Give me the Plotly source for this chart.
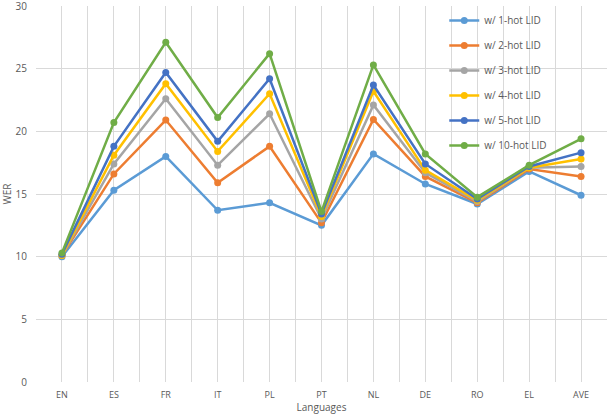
import plotly.graph_objects as go

languages = ["EN", "ES", "FR", "IT", "PL", "PT", "NL", "DE", "RO", "EL", "AVE"]

hot1 = [10.0, 15.3, 18.0, 13.7, 14.3, 12.5, 18.2, 15.8, 14.2, 16.8, 14.9]
hot2 = [10.1, 16.6, 20.9, 15.9, 18.8, 12.7, 20.95, 16.4, 14.3, 17.0, 16.4]
hot3 = [10.1, 17.4, 22.6, 17.3, 21.4, 13.0, 22.1, 16.7, 14.4, 17.1, 17.2]
hot4 = [10.1, 18.1, 23.8, 18.4, 23.0, 13.2, 23.2, 16.9, 14.5, 17.1, 17.8]
hot5 = [10.2, 18.8, 24.7, 19.2, 24.2, 13.4, 23.7, 17.4, 14.6, 17.2, 18.3]
hot10 = [10.3, 20.7, 27.1, 21.1, 26.2, 13.6, 25.3, 18.2, 14.75, 17.3, 19.4]

names = ["w/ 1-hot LID", "w/ 2-hot LID", "w/ 3-hot LID",
         "w/ 4-hot LID", "w/ 5-hot LID", "w/ 10-hot LID"]
colors = ["#5B9BD5", "#ED7D31", "#A5A5A5", "#FFC000", "#4472C4", "#70AD47"]
series = [hot1, hot2, hot3, hot4, hot5, hot10]

xs = list(range(len(languages)))

fig = go.Figure()
for name, color, vals in zip(names, colors, series):
    fig.add_trace(go.Scatter(
        x=xs, y=vals, name=name, legendgroup=name,
        mode="lines+markers",
        line=dict(color=color, width=2.5),
        marker=dict(color=color, size=7),
    ))

grid = "#D9D9D9"
txt = "#595959"
fig.update_layout(
    width=608, height=414,
    margin=dict(l=36, r=1, t=6, b=32),
    paper_bgcolor="white", plot_bgcolor="white",
    font=dict(family="Open Sans, Liberation Sans, sans-serif", size=10, color=txt),
    legend=dict(x=0.715, y=1.0, xanchor="left", yanchor="top",
                bgcolor="rgba(0,0,0,0)", traceorder="grouped",
                tracegroupgap=6, font=dict(size=10, color=txt)),
    xaxis=dict(
        range=[-0.5, len(languages) - 0.5],
        tickmode="array", tickvals=xs, ticktext=languages,
        showgrid=True, gridcolor=grid, gridwidth=1,
        zeroline=False, ticks="", showline=False, automargin=False,
        minor=dict(tickmode="array",
                   tickvals=[i - 0.5 for i in range(len(languages) + 1)],
                   showgrid=True, gridcolor=grid, gridwidth=1),
        ticklabelstandoff=6,
        title=dict(text="Languages", standoff=8, font=dict(size=10, color=txt)),
        tickfont=dict(size=9, color=txt),
    ),
    yaxis=dict(
        range=[0, 30], dtick=5,
        showgrid=True, gridcolor=grid, gridwidth=1,
        zeroline=False, showline=False, ticks="", automargin=False,
        ticklabelstandoff=8, ticklabeloverflow="allow",
        title=dict(text="WER", standoff=4, font=dict(size=10, color=txt)),
        tickfont=dict(size=10, color=txt),
    ),
)

# page body has a default 8px margin, drop it so the chart sits at 0,0
fig.write_html("out.html", config={"displayModeBar": False},
               post_script="document.body.style.margin='0';")
